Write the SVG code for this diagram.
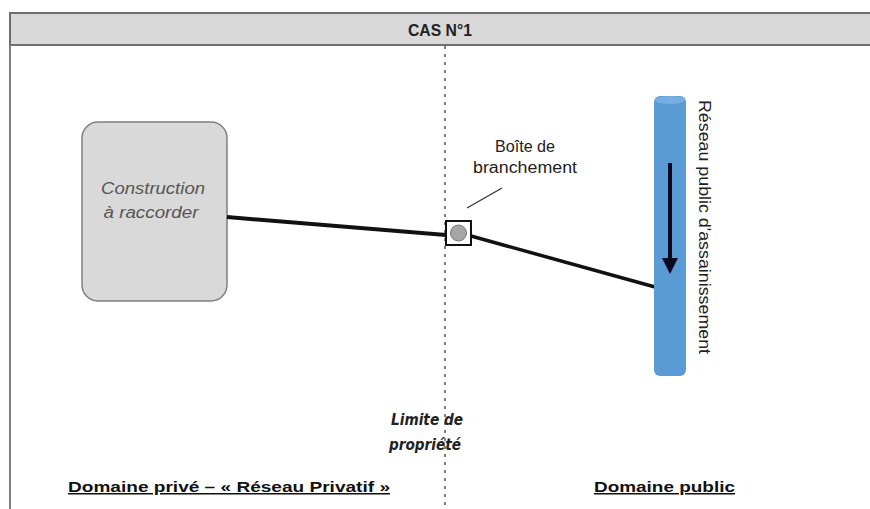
<svg xmlns="http://www.w3.org/2000/svg" width="870" height="509" viewBox="0 0 870 509">
<style>
.narrow{font-family:"Liberation Sans",Arial,sans-serif;fill:#222}
.lbl{font-family:"Liberation Sans",Arial,sans-serif;font-size:15px;font-weight:bold;fill:#111;text-decoration:underline}
.lim{font-family:"DejaVu Sans",Verdana,sans-serif;font-size:15px;font-style:italic;font-weight:bold;fill:#222}
</style>
<defs>
<marker id="ah" markerWidth="4" markerHeight="4" refX="2" refY="2" orient="auto" markerUnits="strokeWidth"><path d="M0,0 L4,2 L0,4 z" fill="#0a0a1e"/></marker>
</defs>
<rect x="0" y="0" width="870" height="509" fill="#fff"/>
<g id="frame">
<rect x="10" y="13" width="870" height="32" fill="#d9d9d9" stroke="#6e6e6e" stroke-width="2"/>
<line x1="10" y1="45" x2="10" y2="509" stroke="#808080" stroke-width="2"/>
<text x="440" y="36" text-anchor="middle" class="narrow" font-size="17" font-weight="bold" textLength="64" lengthAdjust="spacingAndGlyphs">CAS N°1</text>
<line x1="445" y1="46" x2="445" y2="509" stroke="#555" stroke-width="1.5" stroke-dasharray="3,5"/>
</g>
<g id="construction">
<rect x="82" y="122" width="145" height="179" rx="16" fill="#d9d9d9" stroke="#7f7f7f" stroke-width="1.5"/>
<text x="153" y="194" text-anchor="middle" class="narrow" font-size="16" font-style="italic" style="fill:#555" textLength="104" lengthAdjust="spacingAndGlyphs">Construction</text>
<text x="151" y="218" text-anchor="middle" class="narrow" font-size="16" font-style="italic" style="fill:#555" textLength="95" lengthAdjust="spacingAndGlyphs">à raccorder</text>
</g>
<g id="connectors">
<line x1="227" y1="217" x2="446" y2="235" stroke="#111" stroke-width="4"/>
<line x1="471" y1="236" x2="655" y2="287" stroke="#111" stroke-width="3.5"/>
<line x1="467" y1="208" x2="502" y2="188" stroke="#333" stroke-width="1.2"/>
</g>
<g id="boite">
<rect x="446" y="221" width="25" height="24" fill="#fff" stroke="#111" stroke-width="2"/>
<circle cx="458.5" cy="233" r="8" fill="#a6a6a6" stroke="#777" stroke-width="1"/>
<text x="525" y="152" text-anchor="middle" class="narrow" font-size="16" textLength="60" lengthAdjust="spacingAndGlyphs">Boîte de</text>
<text x="525" y="173" text-anchor="middle" class="narrow" font-size="16" textLength="104" lengthAdjust="spacingAndGlyphs">branchement</text>
</g>
<g id="reseau">
<rect x="654" y="96" width="32" height="280" rx="6" fill="#5b9bd5"/>
<ellipse cx="670" cy="100" rx="15" ry="4" fill="#76aee0"/>
<line x1="670" y1="163" x2="670" y2="266" stroke="#0a0a1e" stroke-width="4" marker-end="url(#ah)"/>
<text transform="translate(699,100) rotate(90)" class="narrow" font-size="16" textLength="254" lengthAdjust="spacingAndGlyphs">Réseau public d'assainissement</text>
</g>
<g id="limite">
<text x="427" y="425" text-anchor="middle" class="lim" textLength="72" lengthAdjust="spacingAndGlyphs">Limite de</text>
<text x="425" y="450" text-anchor="middle" class="lim" textLength="72" lengthAdjust="spacingAndGlyphs">propriété</text>
</g>
<g id="domaines">
<text x="68" y="492" class="lbl" textLength="322" lengthAdjust="spacingAndGlyphs">Domaine privé – « Réseau Privatif »</text>
<text x="594" y="492" class="lbl" textLength="141" lengthAdjust="spacingAndGlyphs">Domaine public</text>
</g>
</svg>
